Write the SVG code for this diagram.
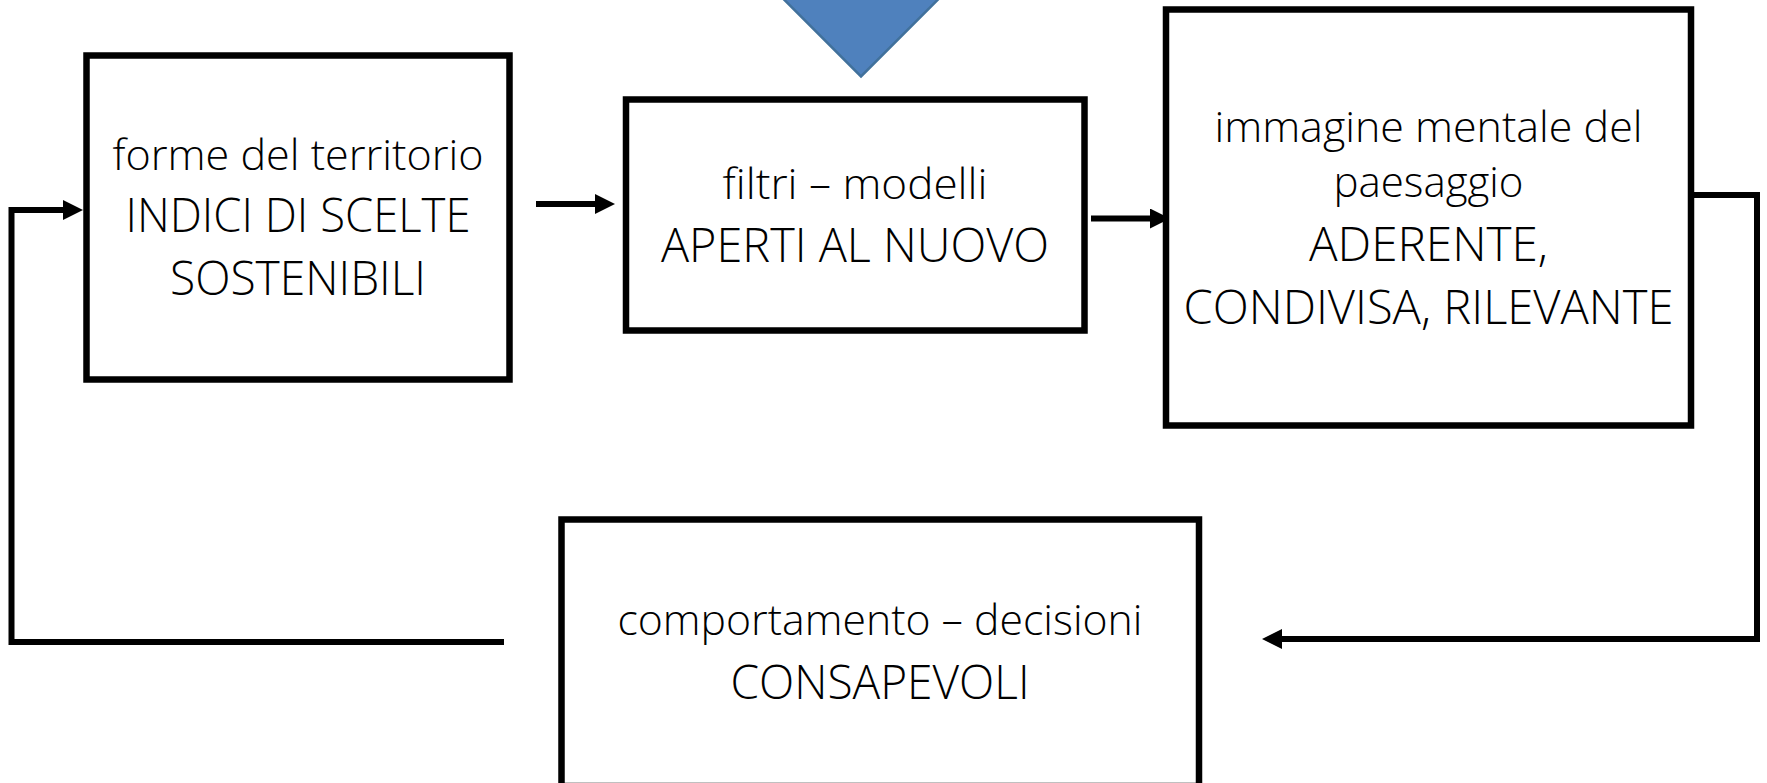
<svg xmlns="http://www.w3.org/2000/svg" width="1767" height="783" viewBox="0 0 1767 783">
  <style>
    .box { fill: #ffffff; stroke: #000000; stroke-width: 6.5; }
    .conn { fill: none; stroke: #000000; stroke-width: 6; stroke-linejoin: miter; stroke-linecap: butt; }
    .lo { font-family: "Open Sans", "Noto Sans", "Liberation Sans", sans-serif; font-weight: 300; font-size: 42px; fill: #000000; text-anchor: middle; }
    .up { font-family: "Open Sans", "Noto Sans", "Liberation Sans", sans-serif; font-weight: 300; font-size: 47px; fill: #000000; text-anchor: middle; }
    .tri { fill: #4F81BD; stroke: #41719C; stroke-width: 2.5; }
  </style>
  <defs>
    <marker id="arrow" markerUnits="userSpaceOnUse" markerWidth="20" markerHeight="20" refX="8" refY="10" orient="auto">
      <path d="M0,0 L20,10 L0,20 Z" fill="#000000"/>
    </marker>
  </defs>
  <rect width="1767" height="783" fill="#ffffff"/>

  <g id="input-triangle">
    <polygon class="tri" points="779.5,-5 942.5,-5 861,76.5"/>
  </g>

  <g id="connectors">
    <path class="conn" d="M536,204 H603" marker-end="url(#arrow)"/>
    <path class="conn" d="M1091,218.5 H1158" marker-end="url(#arrow)"/>
    <path class="conn" d="M1691,195 H1757 V639 H1274" marker-end="url(#arrow)"/>
    <path class="conn" d="M504,642 H11.5 V210 H71" marker-end="url(#arrow)"/>
  </g>

  <g id="node-forme">
    <rect class="box" x="86.5" y="55.5" width="423" height="324"/>
    <text class="lo" x="298" y="170" textLength="371" lengthAdjust="spacingAndGlyphs">forme del territorio</text>
    <text class="up" x="298" y="232" textLength="345" lengthAdjust="spacingAndGlyphs">INDICI DI SCELTE</text>
    <text class="up" x="298" y="295" textLength="256" lengthAdjust="spacingAndGlyphs">SOSTENIBILI</text>
  </g>

  <g id="node-filtri">
    <rect class="box" x="626" y="99.5" width="458.5" height="231"/>
    <text class="lo" x="855" y="199" textLength="265" lengthAdjust="spacingAndGlyphs">filtri – modelli</text>
    <text class="up" x="855" y="261.5" textLength="388" lengthAdjust="spacingAndGlyphs">APERTI AL NUOVO</text>
  </g>

  <g id="node-immagine">
    <rect class="box" x="1166" y="9.5" width="525" height="416"/>
    <text class="lo" x="1428.5" y="141.5" textLength="428" lengthAdjust="spacingAndGlyphs">immagine mentale del</text>
    <text class="lo" x="1428.5" y="196.5" textLength="190" lengthAdjust="spacingAndGlyphs">paesaggio</text>
    <text class="up" x="1428.5" y="261" textLength="239" lengthAdjust="spacingAndGlyphs">ADERENTE,</text>
    <text class="up" x="1428.5" y="324" textLength="490" lengthAdjust="spacingAndGlyphs">CONDIVISA, RILEVANTE</text>
  </g>

  <g id="node-comportamento">
    <rect class="box" x="561.5" y="519.5" width="637.5" height="266.5"/>
    <text class="lo" x="880" y="635" textLength="525" lengthAdjust="spacingAndGlyphs">comportamento – decisioni</text>
    <text class="up" x="880" y="699" textLength="299" lengthAdjust="spacingAndGlyphs">CONSAPEVOLI</text>
  </g>
</svg>
